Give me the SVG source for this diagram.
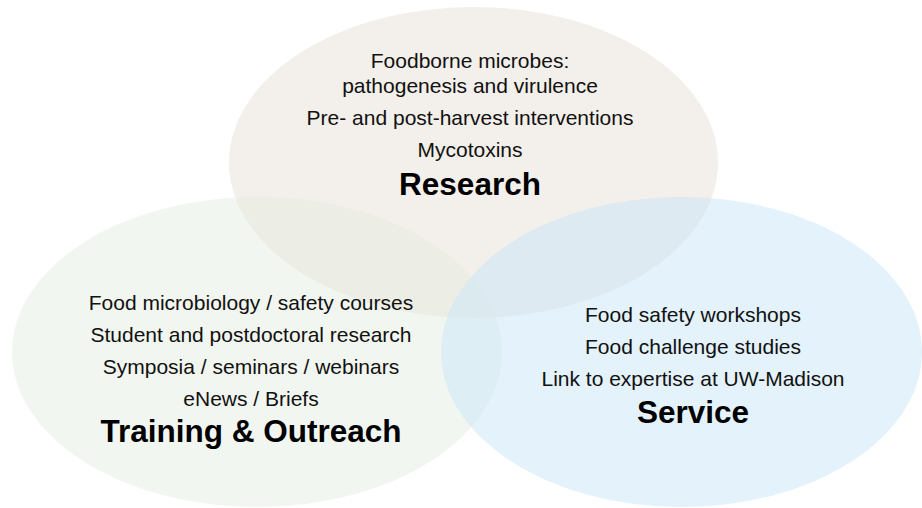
<svg xmlns="http://www.w3.org/2000/svg" width="922" height="508" viewBox="0 0 922 508">
<style>
.t{font-family:"Liberation Sans",Arial,sans-serif;font-size:21px;fill:#111;text-anchor:middle}
.h{font-family:"Liberation Sans",Arial,sans-serif;font-size:31.5px;font-weight:bold;fill:#000;text-anchor:middle}
</style>
<rect width="922" height="508" fill="#fff"/>
<g id="research">
<ellipse cx="473.5" cy="162.5" rx="244.5" ry="155.5" fill="#EAE2D9" fill-opacity="0.55"/>
</g>
<g id="training">
<ellipse cx="257" cy="352" rx="245" ry="155" fill="#E6EEE1" fill-opacity="0.5"/>
</g>
<g id="service">
<ellipse cx="681.5" cy="352" rx="240.5" ry="155" fill="#C8E6F8" fill-opacity="0.5"/>
</g>
<g id="connectors"></g>
<g id="research-text">
<text class="t" x="470" y="68">Foodborne microbes:</text>
<text class="t" x="470" y="93">pathogenesis and virulence</text>
<text class="t" x="470" y="125">Pre- and post-harvest interventions</text>
<text class="t" x="470" y="157">Mycotoxins</text>
<text class="h" x="470" y="195">Research</text>
</g>
<g id="training-text">
<text class="t" x="251" y="310">Food microbiology / safety courses</text>
<text class="t" x="251" y="342">Student and postdoctoral research</text>
<text class="t" x="251" y="374">Symposia / seminars / webinars</text>
<text class="t" x="251" y="406">eNews / Briefs</text>
<text class="h" x="251" y="442">Training &amp; Outreach</text>
</g>
<g id="service-text">
<text class="t" x="693" y="322">Food safety workshops</text>
<text class="t" x="693" y="354">Food challenge studies</text>
<text class="t" x="693" y="386">Link to expertise at UW-Madison</text>
<text class="h" x="693" y="423">Service</text>
</g>
</svg>
